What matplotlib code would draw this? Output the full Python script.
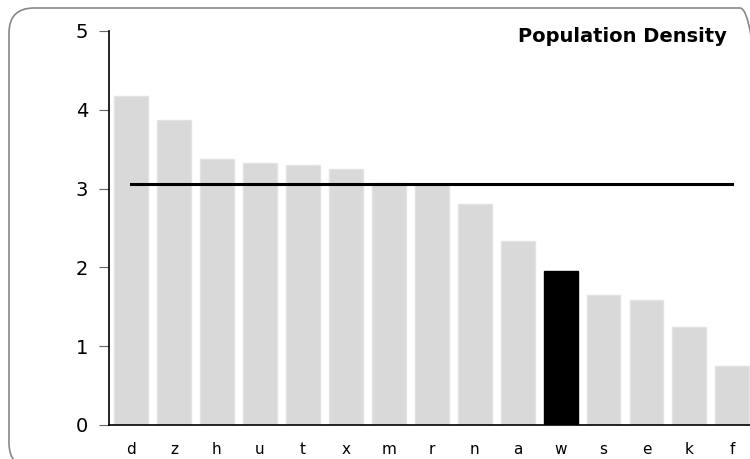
import matplotlib
matplotlib.use("Agg")
from matplotlib import pyplot as plt
from matplotlib.patches import FancyBboxPatch

categories = ["d", "z", "h", "u", "t", "x", "m", "r", "n", "a", "w", "s", "e", "k", "f"]
values = [4.17, 3.87, 3.38, 3.33, 3.30, 3.25, 3.07, 3.06, 2.80, 2.34, 1.95, 1.65, 1.59, 1.24, 0.75]
highlight = "w"
average = 3.06

plt.rcParams['font.family'] = ['DejaVu Sans']

fig = plt.figure(figsize=(7.5, 4.59), dpi=100)

# rounded frame around the whole chart (in inches)
frame = FancyBboxPatch((0.09, -0.09), 7.56, 4.60, boxstyle="round,pad=0,rounding_size=0.25",
                       transform=fig.dpi_scale_trans, facecolor="none", edgecolor="#888888",
                       linewidth=1.2)
fig.patches.append(frame)

ax = fig.add_axes([0.1453, 0.0741, 0.8547, 0.8584])

colors = ["black" if c == highlight else "#d9d9d9" for c in categories]
edges = ["black" if c == highlight else "#e3e3e3" for c in categories]
x = range(len(categories))
ax.bar(x, values, width=0.79, color=colors, edgecolor=edges, linewidth=1)
ax.plot([0, len(categories) - 1], [average, average], color="black", linewidth=2.2)

ax.set_xlim(-0.512, 14.41)
ax.set_ylim(0, 5)
ax.set_xticks(list(x))
ax.set_xticklabels(categories, fontsize=11)
ax.set_yticks([0, 1, 2, 3, 4, 5])
ax.tick_params(axis="x", length=0, pad=12)
ax.tick_params(axis="y", length=7, color="#666666", labelsize=14, pad=8)
for s in ["top", "right"]:
    ax.spines[s].set_visible(False)
ax.spines["left"].set_linewidth(1.2)
ax.spines["bottom"].set_linewidth(1.2)

fig.text(0.969, 0.921, "Population Density", ha="right", va="center",
         fontsize=14, fontweight="bold")

plt.savefig("out.png", dpi=100)
